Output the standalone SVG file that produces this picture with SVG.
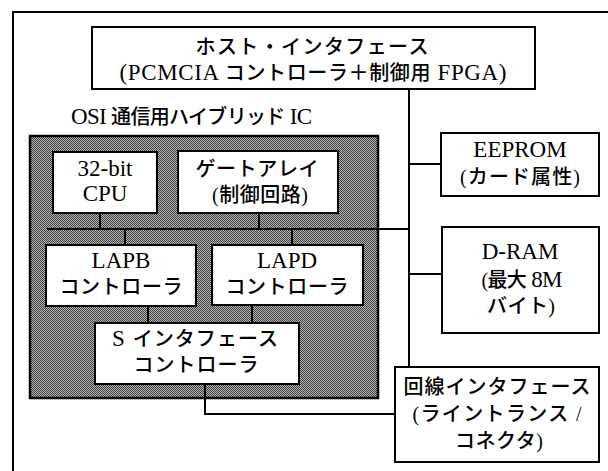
<svg xmlns="http://www.w3.org/2000/svg" width="608" height="471" viewBox="0 0 608 471">
<style>
.box{fill:#fff;stroke:#000;stroke-width:2}
.ic{fill:url(#dither);stroke:#000;stroke-width:2.5}
.ln{fill:none;stroke:#000;stroke-width:2}
.t{font-family:"Liberation Serif","Noto Sans CJK JP",serif;font-size:20px;fill:#000;text-anchor:middle}
.j{font-family:"Noto Sans CJK JP","Liberation Sans",sans-serif;font-weight:500}
.l{font-family:"Liberation Serif",serif;font-size:23px}
</style>
<defs>
<pattern id="dither" width="2" height="2" patternUnits="userSpaceOnUse">
<rect width="2" height="2" fill="#b4b4b4"/>
<rect x="0" y="0" width="1" height="1" fill="#404040"/>
<rect x="1" y="1" width="1" height="1" fill="#404040"/>
</pattern>
</defs>
<rect width="608" height="471" fill="#fff"/>
<g id="frame">
<path class="ln" d="M13,471 V12 H608"/>
</g>
<g id="ic-label">
<text x="71" y="124" class="t" style="text-anchor:start" textLength="241" lengthAdjust="spacing"><tspan class="l">OSI </tspan><tspan class="j">通信用ハイブリッド</tspan><tspan class="l"> IC</tspan></text>
</g>
<g id="ic">
<rect class="ic" x="30" y="136" width="348" height="262"/>
</g>
<g id="connectors">
<path class="ln" d="M409,89 V367"/>
<path class="ln" d="M409,164 H441"/>
<path class="ln" d="M409,274 H442"/>
<path class="ln" d="M47,229 H409"/>
<path class="ln" d="M100,213 V229"/>
<path class="ln" d="M259,213 V229"/>
<path class="ln" d="M125,229 V245"/>
<path class="ln" d="M292,229 V245"/>
<path class="ln" d="M148,306 V323"/>
<path class="ln" d="M252,305 V323"/>
<path class="ln" d="M205,384 V414 H395"/>
</g>
<g id="host">
<rect class="box" x="92" y="27" width="443" height="62"/>
<text x="312" y="54" class="t j" textLength="233" lengthAdjust="spacing">ホスト・インタフェース</text>
<text x="313" y="80" class="t" textLength="387" lengthAdjust="spacing"><tspan class="l">(PCMCIA </tspan><tspan class="j">コントローラ＋制御用</tspan><tspan class="l"> FPGA)</tspan></text>
</g>
<g id="cpu">
<rect class="box" x="53" y="152" width="104" height="61"/>
<text x="105" y="176" class="t l">32-bit</text>
<text x="105" y="201" class="t l">CPU</text>
</g>
<g id="gate">
<rect class="box" x="178" y="151" width="160" height="62"/>
<text x="257" y="176" class="t j" textLength="123" lengthAdjust="spacing">ゲートアレイ</text>
<text x="260" y="202" class="t" textLength="96" lengthAdjust="spacing">(<tspan class="j">制御回路</tspan>)</text>
</g>
<g id="lapb">
<rect class="box" x="46" y="245" width="150" height="61"/>
<text x="121" y="268" class="t l">LAPB</text>
<text x="121" y="294" class="t j" textLength="123" lengthAdjust="spacing">コントローラ</text>
</g>
<g id="lapd">
<rect class="box" x="212" y="245" width="151" height="60"/>
<text x="287" y="268" class="t l">LAPD</text>
<text x="287" y="294" class="t j" textLength="123" lengthAdjust="spacing">コントローラ</text>
</g>
<g id="sif">
<rect class="box" x="95" y="323" width="204" height="61"/>
<text x="195" y="346" class="t" textLength="166" lengthAdjust="spacing"><tspan class="l">S </tspan><tspan class="j">インタフェース</tspan></text>
<text x="196" y="372" class="t j" textLength="125" lengthAdjust="spacing">コントローラ</text>
</g>
<g id="eeprom">
<rect class="box" x="441" y="133" width="158" height="63"/>
<text x="520" y="157" class="t l">EEPROM</text>
<text x="520" y="184" class="t" textLength="120" lengthAdjust="spacing">(<tspan class="j">カード属性</tspan>)</text>
</g>
<g id="dram">
<rect class="box" x="442" y="227" width="157" height="106"/>
<text x="520" y="259" class="t l">D-RAM</text>
<text x="522" y="287" class="t" textLength="81" lengthAdjust="spacing">(<tspan class="j">最大</tspan><tspan class="l"> 8M</tspan></text>
<text x="521" y="313" class="t" textLength="68" lengthAdjust="spacing"><tspan class="j">バイト</tspan>)</text>
</g>
<g id="line-if">
<rect class="box" x="395" y="367" width="204" height="95"/>
<text x="497" y="394" class="t j" textLength="187" lengthAdjust="spacing">回線インタフェース</text>
<text x="497" y="421" class="t" textLength="169" lengthAdjust="spacing">(<tspan class="j">ライントランス</tspan> /</text>
<text x="499" y="448" class="t" textLength="88" lengthAdjust="spacing"><tspan class="j">コネクタ</tspan>)</text>
</g>
</svg>
